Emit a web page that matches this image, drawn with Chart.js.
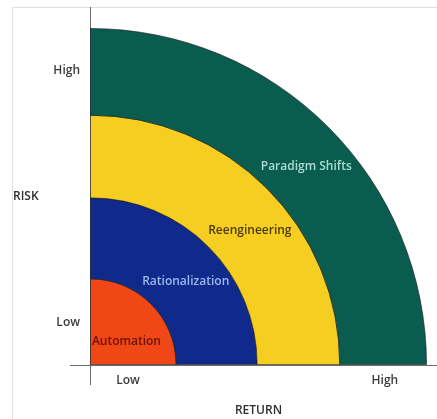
<!DOCTYPE html>
<html>
<head>
<meta charset="utf-8">
<script src="https://cdn.jsdelivr.net/npm/chart.js@4.4.1/dist/chart.umd.min.js"></script>
<style>
  html, body { margin: 0; background: #fff; }
  #wrap { position: relative; width: 437px; height: 419px; }
  #frame { position: absolute; left: 12px; top: 7px; right: 0; bottom: 0;
           border-left: 1px solid #e0e0e0; border-top: 1px solid #e0e0e0; }
  #chart { position: relative; }
</style>
</head>
<body>
<div id="wrap">
  <div id="frame"></div>
  <canvas id="chart"></canvas>
</div>
<script>
// rings, outermost first. reach = outer edge on the 0-100 risk/return scale
const ringNames = ['Paradigm Shifts', 'Reengineering', 'Rationalization', 'Automation'];
const ringReach = [100, 74.2, 49.6, 25.5];
const ringColors = ['#0a5c4e', '#f6ce22', '#102a8c', '#ef4716'];
const ringTextColors = ['#a9ddd2', '#4a3b0a', '#9cb8ee', '#6a1306'];

const returnTicks = [11.3, 87.5];
const riskTicks = [12.5, 87.5];
const tickLabels = ['Low', 'High'];
const returnTitle = 'RETURN';
const riskTitle = 'RISK';

const axisColor = '#6b6b6b';
const labelFont = {family: "'Open Sans', sans-serif", size: 12, weight: '600'};

// only the tick at 0 gets a visible mark, it extends the axis lines past the corner
const tickColor = (c) => (c.tick && c.tick.value === 0 ? axisColor : 'rgba(0,0,0,0)');
const zeroPlus = (values) => (axis) => {
    axis.ticks = [0].concat(values).map((v) => ({value: v}));
};
const tickText = (v, i) => (i ? tickLabels[i - 1] : '');

const datasets = ringNames.map((name, i) => ({
    label: name,
    data: [1],
    weight: ringReach[i] - (ringReach[i + 1] || 0),
    backgroundColor: ringColors[i],
    borderColor: 'rgba(25,25,25,0.6)',
    borderWidth: 1,
    hoverOffset: 0,
    offset: 0
}));

const ringLabels = {
    id: 'ringLabels',
    afterDatasetsDraw(chart, args, opts) {
        const ctx = chart.ctx;
        ctx.save();
        ctx.font = "600 12px 'Open Sans', sans-serif";
        ctx.textAlign = 'center';
        ctx.textBaseline = 'middle';
        chart.data.datasets.forEach((ds, i) => {
            const arc = chart.getDatasetMeta(i).data[0];
            const p = arc.getProps(['x', 'y', 'innerRadius', 'outerRadius'], true);
            const r = (p.innerRadius + p.outerRadius) / 2;
            const a = opts.angles[i] * Math.PI / 180;
            ctx.fillStyle = ringTextColors[i];
            ctx.fillText(ds.label, p.x + r * Math.cos(a), p.y - r * Math.sin(a));
        });
        ctx.restore();
    }
};

// horizontal y-axis title, chart.js only rotates it
const sideTitle = {
    id: 'sideTitle',
    afterDraw(chart) {
        const ctx = chart.ctx;
        const area = chart.chartArea;
        ctx.save();
        ctx.font = "600 12px 'Open Sans', sans-serif";
        ctx.fillStyle = '#2e2e2e';
        ctx.textAlign = 'left';
        ctx.textBaseline = 'middle';
        ctx.fillText(riskTitle, chart.scales.y.left + 1, (area.top + area.bottom) / 2);
        ctx.restore();
    }
};

new Chart(document.getElementById('chart'), {
    type: 'pie',
    data: {labels: [''], datasets: datasets},
    plugins: [ringLabels, sideTitle],
    options: {
        responsive: true,
        maintainAspectRatio: false,
        animation: false,
        events: [],
        rotation: 0,
        circumference: 90,
        layout: {padding: {left: 12, top: 7, right: 0, bottom: 0}},
        plugins: {
            legend: {display: false},
            tooltip: {enabled: false},
            ringLabels: {angles: [42.5, 40, 41, 33]}
        },
        scales: {
            x: {
                type: 'linear', position: 'bottom', min: 0, max: 100, z: 1,
                afterBuildTicks: zeroPlus(returnTicks),
                afterFit: (s) => { s.height = 54; },
                grid: {drawOnChartArea: false, tickLength: 20, color: tickColor},
                border: {color: axisColor},
                ticks: {padding: -11.5, color: '#3c3c3c', font: labelFont, callback: tickText,
                        autoSkip: false, maxRotation: 0},
                title: {display: true, text: returnTitle, color: '#2e2e2e', font: labelFont,
                        padding: {top: 0, bottom: 1}}
            },
            y: {
                type: 'linear', position: 'left', min: 0, max: 100, z: 1,
                afterBuildTicks: zeroPlus(riskTicks),
                afterFit: (s) => { s.width = 78; },
                grid: {drawOnChartArea: false, tickLength: 20, color: tickColor},
                border: {color: axisColor},
                ticks: {padding: -10, color: '#3c3c3c', font: labelFont, callback: tickText,
                        autoSkip: false}
            },
            x2: {
                type: 'linear', position: 'top', min: 0, max: 100,
                afterBuildTicks: zeroPlus([]),
                afterFit: (s) => { s.height = 21; },
                grid: {drawOnChartArea: false, tickLength: 21, color: tickColor},
                border: {display: false},
                ticks: {display: false}
            },
            y2: {
                type: 'linear', position: 'right', min: 0, max: 100,
                afterBuildTicks: zeroPlus([]),
                afterFit: (s) => { s.width = 10; },
                grid: {drawOnChartArea: false, tickLength: 10, color: tickColor},
                border: {display: false},
                ticks: {display: false}
            }
        }
    }
});
</script>
</body>
</html>
